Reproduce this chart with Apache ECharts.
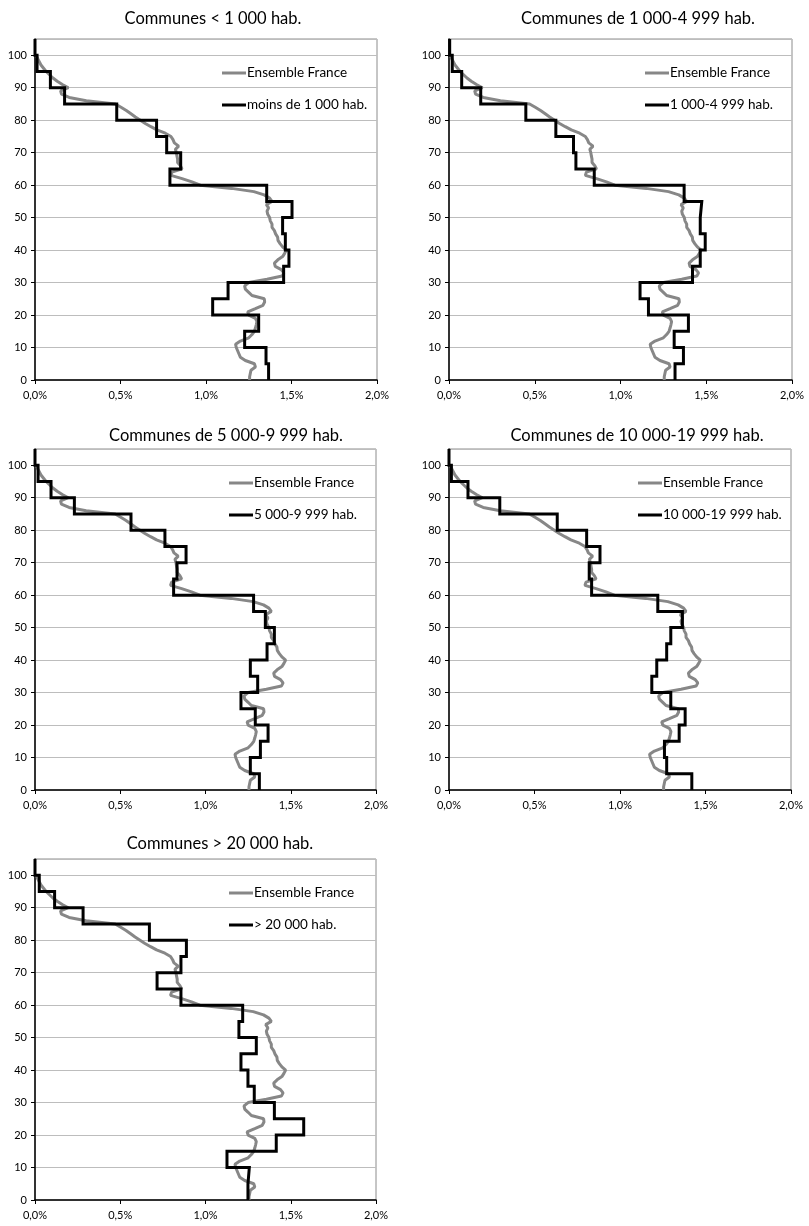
<!DOCTYPE html>
<html>
<head>
<meta charset="utf-8">
<script src="https://cdn.jsdelivr.net/npm/echarts@6/dist/echarts.min.js"></script>
<style>
html,body{margin:0;padding:0;background:#fff;}
#c{width:809px;height:1226px;}
</style>
</head>
<body>
<div id="c"></div>
<script>
// Age groups (lower bound of each 5-year band, last band 100-105)
const groupStarts = [0,5,10,15,20,25,30,35,40,45,50,55,60,65,70,75,80,85,90,95,100];
const groupWidth = 5;

// Ensemble France: share of population by single year of age (%), ages 0..100
const franceAges = Array.from({length: 101}, (_, i) => i);
const franceShare = [
  1.255,1.255,1.259,1.263,1.289,1.283,1.230,1.201,1.193,1.185,
  1.177,1.173,1.201,1.250,1.269,1.283,1.289,1.294,1.298,1.289,
  1.250,1.244,1.289,1.333,1.343,1.341,1.269,1.250,1.230,1.226,
  1.250,1.357,1.445,1.455,1.440,1.405,1.400,1.420,1.448,1.460,
  1.470,1.448,1.433,1.421,1.419,1.407,1.400,1.386,1.386,1.376,
  1.372,1.361,1.357,1.366,1.353,1.386,1.372,1.340,1.280,1.150,
  0.967,0.918,0.860,0.795,0.801,0.860,0.850,0.834,0.834,0.830,
  0.827,0.821,0.840,0.815,0.807,0.795,0.762,0.713,0.678,0.645,
  0.616,0.587,0.561,0.534,0.503,0.470,0.300,0.200,0.155,0.150,
  0.195,0.160,0.130,0.105,0.085,0.065,0.050,0.035,0.025,0.015,
  0.008
];

// Share by 5-year age group (%), per commune size class
const lt1000 = [1.366,1.351,1.226,1.308,1.039,1.129,1.454,1.485,1.464,1.448,1.503,1.355,0.789,0.852,0.770,0.711,0.478,0.173,0.090,0.012,0.0];
const c1000_4999 = [1.318,1.367,1.313,1.396,1.163,1.114,1.420,1.465,1.494,1.465,1.474,1.371,0.847,0.740,0.726,0.623,0.448,0.185,0.074,0.019,0.004];
const c5000_9999 = [1.316,1.263,1.322,1.367,1.292,1.208,1.306,1.263,1.361,1.404,1.351,1.282,0.813,0.833,0.886,0.762,0.563,0.231,0.094,0.018,0.0];
const c10000_19999 = [1.420,1.273,1.260,1.346,1.381,1.297,1.186,1.215,1.273,1.297,1.365,1.221,0.834,0.820,0.883,0.805,0.633,0.297,0.111,0.014,0.0];
const gt20000 = [1.249,1.257,1.126,1.415,1.576,1.404,1.286,1.249,1.208,1.298,1.196,1.218,0.856,0.716,0.856,0.888,0.671,0.282,0.115,0.025,0.0];

const panelTitles = [
  'Communes < 1 000 hab.',
  'Communes de 1 000-4 999 hab.',
  'Communes de 5 000-9 999 hab.',
  'Communes de 10 000-19 999 hab.',
  'Communes > 20 000 hab.'
];
const seriesNames = [
  'moins de 1 000 hab.',
  '1 000-4 999 hab.',
  '5 000-9 999 hab.',
  '10 000-19 999 hab.',
  '> 20 000 hab.'
];
const franceName = 'Ensemble France';
const panelValues = [lt1000, c1000_4999, c5000_9999, c10000_19999, gt20000];

// x axis ticks (percent) and y axis ticks (age)
const xMin = 0, xMax = 2, xStep = 0.5;
const yMin = 0, yMax = 105, yStep = 10;

// ---- layout (positions only) ----
const FONT = 'Lato, "Liberation Sans", sans-serif';
const layouts = [
  {left: 35,  top: 39,  w: 342, h: 341, titleX: 208, titleY: 5,   legX: 217, legY: 61},
  {left: 449, top: 39,  w: 343, h: 341, titleX: 633, titleY: 5,   legX: 640, legY: 61},
  {left: 35,  top: 449, w: 341, h: 341, titleX: 221, titleY: 422, legX: 224, legY: 471},
  {left: 449, top: 449, w: 342, h: 341, titleX: 632, titleY: 422, legX: 633, legY: 471},
  {left: 35,  top: 859, w: 341, h: 341, titleX: 215, titleY: 830, legX: 224, legY: 881}
];

function stepPoints(vals) {
  const pts = [];
  vals.forEach((v, i) => {
    pts.push([v, groupStarts[i]]);
    pts.push([v, groupStarts[i] + groupWidth]);
  });
  return pts;
}
const francePoints = franceShare.map((v, i) => [v, franceAges[i]]);

const option = {
  animation: false,
  backgroundColor: '#fff',
  textStyle: {fontFamily: FONT},
  title: [], grid: [], xAxis: [], yAxis: [], legend: [], series: []
};

layouts.forEach((L, k) => {
  option.title.push({
    text: panelTitles[k], left: L.titleX, top: L.titleY, textAlign: 'center',
    textStyle: {fontFamily: FONT, fontSize: 16.5, fontWeight: 'normal', color: '#000'}
  });
  option.grid.push({
    left: L.left, top: L.top, width: L.w, height: L.h,
    show: true, borderColor: '#8c8c8c', borderWidth: 1, backgroundColor: 'transparent'
  });
  option.xAxis.push({
    type: 'value', gridIndex: k, min: xMin, max: xMax, interval: xStep,
    axisLine: {show: true, onZero: false, lineStyle: {color: '#000', width: 1.5}},
    axisTick: {show: true, length: 4, lineStyle: {color: '#000'}},
    splitLine: {show: false},
    axisLabel: {
      fontFamily: FONT, fontSize: 11, color: '#000', margin: 10,
      formatter: v => v.toFixed(1).replace('.', ',') + '%'
    }
  });
  option.yAxis.push({
    type: 'value', gridIndex: k, min: yMin, max: yMax, interval: yStep,
    axisLine: {show: true, onZero: false, lineStyle: {color: '#000', width: 1.5}},
    axisTick: {show: true, length: 4, lineStyle: {color: '#000'}},
    splitLine: {show: true, lineStyle: {color: '#bdbdbd', width: 1}},
    axisLabel: {fontFamily: FONT, fontSize: 11, color: '#000', margin: 8, showMaxLabel: false}
  });
  option.legend.push({
    orient: 'vertical', left: L.legX, top: L.legY,
    data: [franceName, seriesNames[k]],
    icon: 'rect', itemWidth: 24, itemHeight: 3, itemGap: 18,
    selectedMode: false,
    textStyle: {fontFamily: FONT, fontSize: 13.5, color: '#000', padding: [0, 0, 0, -4]}
  });
  option.series.push({
    type: 'line', name: franceName, xAxisIndex: k, yAxisIndex: k,
    data: francePoints, showSymbol: false, symbol: 'none',
    lineStyle: {color: '#878787', width: 3}, itemStyle: {color: '#878787'},
    z: 2
  });
  option.series.push({
    type: 'line', name: seriesNames[k], xAxisIndex: k, yAxisIndex: k,
    data: stepPoints(panelValues[k]), showSymbol: false, symbol: 'none',
    lineStyle: {color: '#000', width: 3, join: 'miter'}, itemStyle: {color: '#000'},
    z: 3
  });
});

const chart = echarts.init(document.getElementById('c'), null, {renderer: 'canvas'});
chart.setOption(option);
</script>
</body>
</html>
